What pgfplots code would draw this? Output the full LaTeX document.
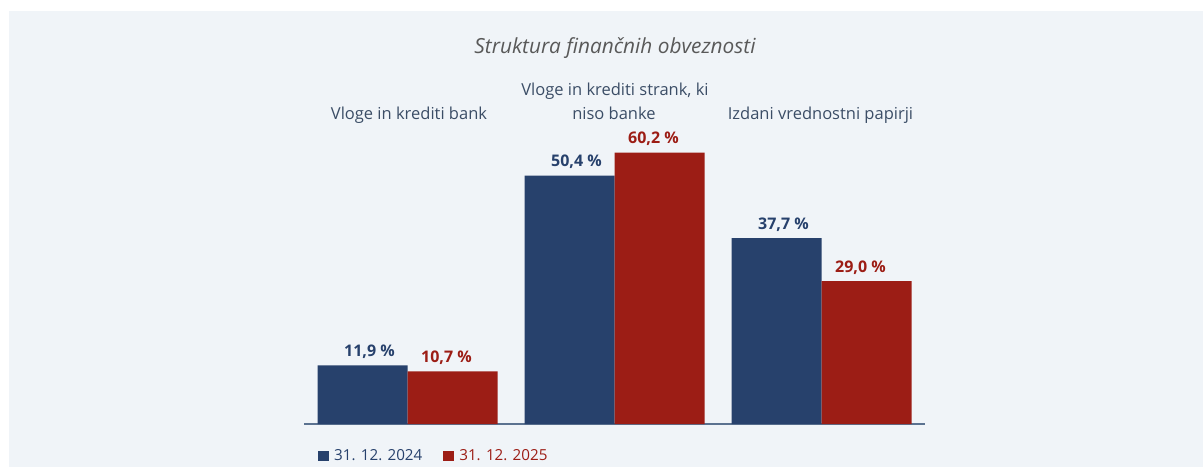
\documentclass[border=0pt]{standalone}
\usepackage{pgfplots}
\pgfplotsset{compat=1.18}
\usepackage{fontspec}
\setmainfont{Open Sans}
\definecolor{bgpanel}{HTML}{F0F4F8}
\definecolor{sblue}{HTML}{27416C}
\definecolor{sred}{HTML}{9C1D15}
\definecolor{cattext}{HTML}{3B4D66}
\definecolor{titletext}{HTML}{595959}
\definecolor{baseln}{HTML}{5B7290}
\begin{document}
\begin{tikzpicture}
\path[use as bounding box] (0pt,0pt) rectangle (1203pt,467pt);
\fill[white] (0pt,0pt) rectangle (1203pt,467pt);
\fill[bgpanel] (9pt,0pt) rectangle (1203pt,456pt);
\begin{axis}[
  at={(304pt,43pt)}, anchor=south west,
  width=621pt, height=345pt, scale only axis,
  xmin=0.5, xmax=3.5, ymin=0, ymax=70,
  hide y axis, axis x line*=bottom,
  x axis line style={baseln, line width=1.5pt},
  xtick=\empty,
  ybar=0pt, bar width=90pt, clip=false,
  point meta=explicit symbolic,
  nodes near coords,
  nodes near coords style={anchor=base, inner sep=0pt, yshift=9pt,
    font=\fontsize{16}{18}\selectfont\bfseries},
  legend image code/.code={\path[#1] (0pt,-5pt) rectangle (11pt,5pt); \path (14pt,0pt);},
  legend style={at={(axis description cs:0.0225,-0.0928)}, anchor=west,
    draw=none, fill=none, inner sep=0pt, legend columns=2,
    /tikz/every even column/.append style={column sep=19pt},
    font=\fontsize{15.2}{17}\selectfont},
  legend cell align=left,
]
\addplot[fill=sblue, draw=none, every node near coord/.append style={text=sblue, xshift=7pt}]
  coordinates {(1,11.9) [11,9 \%] (2,50.4) [50,4 \%] (3,37.7) [37,7 \%]};
\addlegendentry{\textcolor{sblue}{31. 12. 2024}}
\addplot[fill=sred, draw=none, every node near coord/.append style={text=sred, xshift=-6pt}]
  coordinates {(1,10.7) [10,7 \%] (2,55.05) [60,2 \%] (3,29.0) [29,0 \%]};
\addlegendentry{\textcolor{sred}{31. 12. 2025}}
\end{axis}
\node[anchor=base, inner sep=0pt, text=titletext, font=\fontsize{20.8}{24}\selectfont\itshape] at (615pt,413.7pt) {Struktura finančnih obveznosti};
\node[anchor=base, inner sep=0pt, text=cattext, font=\fontsize{16.5}{20}\selectfont] at (409pt,348pt) {Vloge in krediti bank};
\node[anchor=base, inner sep=0pt, text=cattext, font=\fontsize{16.5}{20}\selectfont] at (615pt,371pt) {Vloge in krediti strank, ki};
\node[anchor=base, inner sep=0pt, text=cattext, font=\fontsize{16.5}{20}\selectfont] at (614pt,348pt) {niso banke};
\node[anchor=base, inner sep=0pt, text=cattext, font=\fontsize{16.5}{20}\selectfont] at (820.5pt,348pt) {Izdani vrednostni papirji};
\end{tikzpicture}
\end{document}
